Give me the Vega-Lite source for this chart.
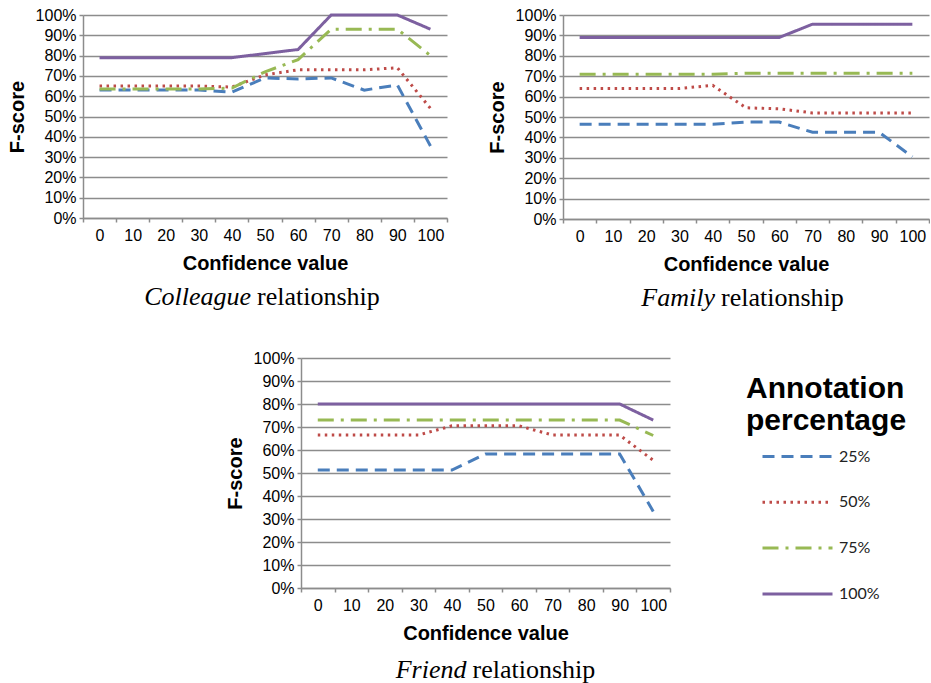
{
  "$schema": "https://vega.github.io/schema/vega-lite/v6.json",
  "padding": {"left": 7, "top": 7, "right": 0, "bottom": 0},
  "background": "white",
  "config": {
    "font": "Liberation Sans",
    "view": {"stroke": null},
    "axis": {
      "labelFont": "Liberation Sans", "labelFontSize": 16, "labelColor": "#000",
      "titleFont": "Liberation Sans", "titleFontSize": 20, "titleFontWeight": "bold", "titleColor": "#000",
      "domainColor": "#8c8c8c", "domainWidth": 1.5,
      "tickColor": "#8c8c8c", "tickWidth": 1.5, "tickSize": 4,
      "gridColor": "#8c8c8c", "gridWidth": 1.5, "gridOpacity": 1
    },
    "axisX": {"grid": false, "labelAngle": 0, "tickBand": "extent", "labelPadding": 5, "titlePadding": 10},
    "axisY": {"grid": true, "format": ".0%", "labelPadding": 3, "titlePadding": 8, "labelOverlap": false},
    "legend": {
      "titleFont": "Liberation Sans", "titleFontSize": 30, "titleFontWeight": "bold", "titleColor": "#000", "titleLineHeight": 32, "titlePadding": -16,
      "labelFont": "Lato", "labelFontSize": 16, "labelColor": "#222", "labelOffset": 5,
      "symbolType": "stroke", "symbolSize": 4900, "symbolStrokeWidth": 3, "rowPadding": 0.8, "symbolOffset": 15
    }
  },
  "datasets": {
    "colleague": [
      {"c":0,"p":"25%","v":0.63},{"c":10,"p":"25%","v":0.63},{"c":20,"p":"25%","v":0.63},{"c":30,"p":"25%","v":0.63},{"c":40,"p":"25%","v":0.62},{"c":50,"p":"25%","v":0.69},{"c":60,"p":"25%","v":0.685},{"c":70,"p":"25%","v":0.69},{"c":80,"p":"25%","v":0.63},{"c":90,"p":"25%","v":0.655},{"c":100,"p":"25%","v":0.355},
      {"c":0,"p":"50%","v":0.65},{"c":10,"p":"50%","v":0.65},{"c":20,"p":"50%","v":0.65},{"c":30,"p":"50%","v":0.65},{"c":40,"p":"50%","v":0.645},{"c":50,"p":"50%","v":0.705},{"c":60,"p":"50%","v":0.73},{"c":70,"p":"50%","v":0.73},{"c":80,"p":"50%","v":0.73},{"c":90,"p":"50%","v":0.74},{"c":100,"p":"50%","v":0.54},
      {"c":0,"p":"75%","v":0.635},{"c":10,"p":"75%","v":0.635},{"c":20,"p":"75%","v":0.635},{"c":30,"p":"75%","v":0.635},{"c":40,"p":"75%","v":0.64},{"c":50,"p":"75%","v":0.72},{"c":60,"p":"75%","v":0.78},{"c":70,"p":"75%","v":0.93},{"c":80,"p":"75%","v":0.93},{"c":90,"p":"75%","v":0.93},{"c":100,"p":"75%","v":0.8},
      {"c":0,"p":"100%","v":0.79},{"c":10,"p":"100%","v":0.79},{"c":20,"p":"100%","v":0.79},{"c":30,"p":"100%","v":0.79},{"c":40,"p":"100%","v":0.79},{"c":50,"p":"100%","v":0.81},{"c":60,"p":"100%","v":0.83},{"c":70,"p":"100%","v":1.0},{"c":80,"p":"100%","v":1.0},{"c":90,"p":"100%","v":1.0},{"c":100,"p":"100%","v":0.93}
    ],
    "family": [
      {"c":0,"p":"25%","v":0.465},{"c":10,"p":"25%","v":0.465},{"c":20,"p":"25%","v":0.465},{"c":30,"p":"25%","v":0.465},{"c":40,"p":"25%","v":0.465},{"c":50,"p":"25%","v":0.475},{"c":60,"p":"25%","v":0.475},{"c":70,"p":"25%","v":0.425},{"c":80,"p":"25%","v":0.425},{"c":90,"p":"25%","v":0.425},{"c":100,"p":"25%","v":0.305},
      {"c":0,"p":"50%","v":0.64},{"c":10,"p":"50%","v":0.64},{"c":20,"p":"50%","v":0.64},{"c":30,"p":"50%","v":0.64},{"c":40,"p":"50%","v":0.655},{"c":50,"p":"50%","v":0.545},{"c":60,"p":"50%","v":0.54},{"c":70,"p":"50%","v":0.52},{"c":80,"p":"50%","v":0.52},{"c":90,"p":"50%","v":0.52},{"c":100,"p":"50%","v":0.52},
      {"c":0,"p":"75%","v":0.71},{"c":10,"p":"75%","v":0.71},{"c":20,"p":"75%","v":0.71},{"c":30,"p":"75%","v":0.71},{"c":40,"p":"75%","v":0.71},{"c":50,"p":"75%","v":0.715},{"c":60,"p":"75%","v":0.715},{"c":70,"p":"75%","v":0.715},{"c":80,"p":"75%","v":0.715},{"c":90,"p":"75%","v":0.715},{"c":100,"p":"75%","v":0.715},
      {"c":0,"p":"100%","v":0.89},{"c":10,"p":"100%","v":0.89},{"c":20,"p":"100%","v":0.89},{"c":30,"p":"100%","v":0.89},{"c":40,"p":"100%","v":0.89},{"c":50,"p":"100%","v":0.89},{"c":60,"p":"100%","v":0.89},{"c":70,"p":"100%","v":0.955},{"c":80,"p":"100%","v":0.955},{"c":90,"p":"100%","v":0.955},{"c":100,"p":"100%","v":0.955}
    ],
    "friend": [
      {"c":0,"p":"25%","v":0.513},{"c":10,"p":"25%","v":0.513},{"c":20,"p":"25%","v":0.513},{"c":30,"p":"25%","v":0.513},{"c":40,"p":"25%","v":0.513},{"c":50,"p":"25%","v":0.583},{"c":60,"p":"25%","v":0.583},{"c":70,"p":"25%","v":0.583},{"c":80,"p":"25%","v":0.583},{"c":90,"p":"25%","v":0.583},{"c":100,"p":"25%","v":0.333},
      {"c":0,"p":"50%","v":0.665},{"c":10,"p":"50%","v":0.665},{"c":20,"p":"50%","v":0.665},{"c":30,"p":"50%","v":0.665},{"c":40,"p":"50%","v":0.705},{"c":50,"p":"50%","v":0.705},{"c":60,"p":"50%","v":0.705},{"c":70,"p":"50%","v":0.665},{"c":80,"p":"50%","v":0.665},{"c":90,"p":"50%","v":0.665},{"c":100,"p":"50%","v":0.555},
      {"c":0,"p":"75%","v":0.73},{"c":10,"p":"75%","v":0.73},{"c":20,"p":"75%","v":0.73},{"c":30,"p":"75%","v":0.73},{"c":40,"p":"75%","v":0.73},{"c":50,"p":"75%","v":0.73},{"c":60,"p":"75%","v":0.73},{"c":70,"p":"75%","v":0.73},{"c":80,"p":"75%","v":0.73},{"c":90,"p":"75%","v":0.73},{"c":100,"p":"75%","v":0.663},
      {"c":0,"p":"100%","v":0.8},{"c":10,"p":"100%","v":0.8},{"c":20,"p":"100%","v":0.8},{"c":30,"p":"100%","v":0.8},{"c":40,"p":"100%","v":0.8},{"c":50,"p":"100%","v":0.8},{"c":60,"p":"100%","v":0.8},{"c":70,"p":"100%","v":0.8},{"c":80,"p":"100%","v":0.8},{"c":90,"p":"100%","v":0.8},{"c":100,"p":"100%","v":0.73}
    ]
  },
  "spacing": 39,
  "vconcat": [
    {
      "spacing": 39,
      "hconcat": [
        {
          "width": 364, "height": 203,
          "layer": [
            {
              "data": {"name": "colleague"},
              "mark": {"type": "line", "strokeWidth": 3, "strokeCap": "butt"},
              "encoding": {
                "x": {"field": "c", "type": "ordinal", "scale": {"type": "band", "paddingInner": 0, "paddingOuter": 0}, "title": "Confidence value"},
                "y": {"field": "v", "type": "quantitative", "scale": {"domain": [0, 1]}, "title": "F-score", "axis": {"values": [0, 0.1, 0.2, 0.3, 0.4, 0.5, 0.6, 0.7, 0.8, 0.9, 1], "tickCount": 11}},
                "color": {"field": "p", "type": "nominal", "scale": {"domain": ["25%", "50%", "75%", "100%"], "range": ["#4A7EBB", "#BE4B48", "#98B954", "#7D60A0"]}, "legend": {"orient": "none", "legendX": 663, "legendY": 359, "title": ["Annotation", "percentage"]}},
                "strokeDash": {"field": "p", "type": "nominal", "scale": {"domain": ["25%", "50%", "75%", "100%"], "range": [[12, 7], [2.5, 4.5], [16, 7, 3, 7], [1, 0]]}, "legend": {"orient": "none", "legendX": 663, "legendY": 359, "title": ["Annotation", "percentage"]}}
              }
            },
            {
              "data": {"values": [{"t": "Colleague"}]},
              "mark": {"type": "text", "font": "Liberation Serif", "fontSize": 26, "fontStyle": "italic", "align": "right", "baseline": "alphabetic", "dx": -14, "color": "#000"},
              "encoding": {"x": {"datum": 50, "type": "ordinal", "title": "Confidence value"}, "y": {"datum": -0.43, "type": "quantitative", "title": "F-score", "axis": {"values": [0, 0.1, 0.2, 0.3, 0.4, 0.5, 0.6, 0.7, 0.8, 0.9, 1], "tickCount": 11}}, "text": {"field": "t"}}
            },
            {
              "data": {"values": [{"t": "relationship"}]},
              "mark": {"type": "text", "font": "Liberation Serif", "fontSize": 26, "align": "left", "baseline": "alphabetic", "dx": -8, "color": "#000"},
              "encoding": {"x": {"datum": 50, "type": "ordinal", "title": "Confidence value"}, "y": {"datum": -0.43, "type": "quantitative", "title": "F-score", "axis": {"values": [0, 0.1, 0.2, 0.3, 0.4, 0.5, 0.6, 0.7, 0.8, 0.9, 1], "tickCount": 11}}, "text": {"field": "t"}}
            }
          ]
        },
        {
          "width": 366, "height": 204,
          "layer": [
            {
              "data": {"name": "family"},
              "mark": {"type": "line", "strokeWidth": 3, "strokeCap": "butt"},
              "encoding": {
                "x": {"field": "c", "type": "ordinal", "scale": {"type": "band", "paddingInner": 0, "paddingOuter": 0}, "title": "Confidence value"},
                "y": {"field": "v", "type": "quantitative", "scale": {"domain": [0, 1]}, "title": "F-score", "axis": {"values": [0, 0.1, 0.2, 0.3, 0.4, 0.5, 0.6, 0.7, 0.8, 0.9, 1], "tickCount": 11}},
                "color": {"field": "p", "type": "nominal", "scale": {"domain": ["25%", "50%", "75%", "100%"], "range": ["#4A7EBB", "#BE4B48", "#98B954", "#7D60A0"]}, "legend": {"orient": "none", "legendX": 663, "legendY": 359, "title": ["Annotation", "percentage"]}},
                "strokeDash": {"field": "p", "type": "nominal", "scale": {"domain": ["25%", "50%", "75%", "100%"], "range": [[12, 7], [2.5, 4.5], [16, 7, 3, 7], [1, 0]]}, "legend": {"orient": "none", "legendX": 663, "legendY": 359, "title": ["Annotation", "percentage"]}}
              }
            },
            {
              "data": {"values": [{"t": "Family"}]},
              "mark": {"type": "text", "font": "Liberation Serif", "fontSize": 26, "fontStyle": "italic", "align": "right", "baseline": "alphabetic", "dx": -31, "color": "#000"},
              "encoding": {"x": {"datum": 50, "type": "ordinal", "title": "Confidence value"}, "y": {"datum": -0.425, "type": "quantitative", "title": "F-score", "axis": {"values": [0, 0.1, 0.2, 0.3, 0.4, 0.5, 0.6, 0.7, 0.8, 0.9, 1], "tickCount": 11}}, "text": {"field": "t"}}
            },
            {
              "data": {"values": [{"t": "relationship"}]},
              "mark": {"type": "text", "font": "Liberation Serif", "fontSize": 26, "align": "left", "baseline": "alphabetic", "dx": -25, "color": "#000"},
              "encoding": {"x": {"datum": 50, "type": "ordinal", "title": "Confidence value"}, "y": {"datum": -0.425, "type": "quantitative", "title": "F-score", "axis": {"values": [0, 0.1, 0.2, 0.3, 0.4, 0.5, 0.6, 0.7, 0.8, 0.9, 1], "tickCount": 11}}, "text": {"field": "t"}}
            }
          ]
        }
      ]
    },
    {
      "spacing": 0,
      "hconcat": [
        {"width": 142, "height": 230, "mark": "point", "data": {"values": []}, "encoding": {}},
        {
          "width": 369, "height": 230,
          "layer": [
            {
              "data": {"name": "friend"},
              "mark": {"type": "line", "strokeWidth": 3, "strokeCap": "butt"},
              "encoding": {
                "x": {"field": "c", "type": "ordinal", "scale": {"type": "band", "paddingInner": 0, "paddingOuter": 0}, "title": "Confidence value"},
                "y": {"field": "v", "type": "quantitative", "scale": {"domain": [0, 1]}, "title": "F-score", "axis": {"values": [0, 0.1, 0.2, 0.3, 0.4, 0.5, 0.6, 0.7, 0.8, 0.9, 1], "tickCount": 11}},
                "color": {"field": "p", "type": "nominal", "scale": {"domain": ["25%", "50%", "75%", "100%"], "range": ["#4A7EBB", "#BE4B48", "#98B954", "#7D60A0"]}, "legend": {"orient": "none", "legendX": 663, "legendY": 359, "title": ["Annotation", "percentage"]}},
                "strokeDash": {"field": "p", "type": "nominal", "scale": {"domain": ["25%", "50%", "75%", "100%"], "range": [[12, 7], [2.5, 4.5], [16, 7, 3, 7], [1, 0]]}, "legend": {"orient": "none", "legendX": 663, "legendY": 359, "title": ["Annotation", "percentage"]}}
              }
            },
            {
              "data": {"values": [{"t": "Friend"}]},
              "mark": {"type": "text", "font": "Liberation Serif", "fontSize": 26, "fontStyle": "italic", "align": "right", "baseline": "alphabetic", "dx": -19, "color": "#000"},
              "encoding": {"x": {"datum": 50, "type": "ordinal", "title": "Confidence value"}, "y": {"datum": -0.39, "type": "quantitative", "title": "F-score", "axis": {"values": [0, 0.1, 0.2, 0.3, 0.4, 0.5, 0.6, 0.7, 0.8, 0.9, 1], "tickCount": 11}}, "text": {"field": "t"}}
            },
            {
              "data": {"values": [{"t": "relationship"}]},
              "mark": {"type": "text", "font": "Liberation Serif", "fontSize": 26, "align": "left", "baseline": "alphabetic", "dx": -13, "color": "#000"},
              "encoding": {"x": {"datum": 50, "type": "ordinal", "title": "Confidence value"}, "y": {"datum": -0.39, "type": "quantitative", "title": "F-score", "axis": {"values": [0, 0.1, 0.2, 0.3, 0.4, 0.5, 0.6, 0.7, 0.8, 0.9, 1], "tickCount": 11}}, "text": {"field": "t"}}
            }
          ]
        }
      ]
    }
  ]
}
